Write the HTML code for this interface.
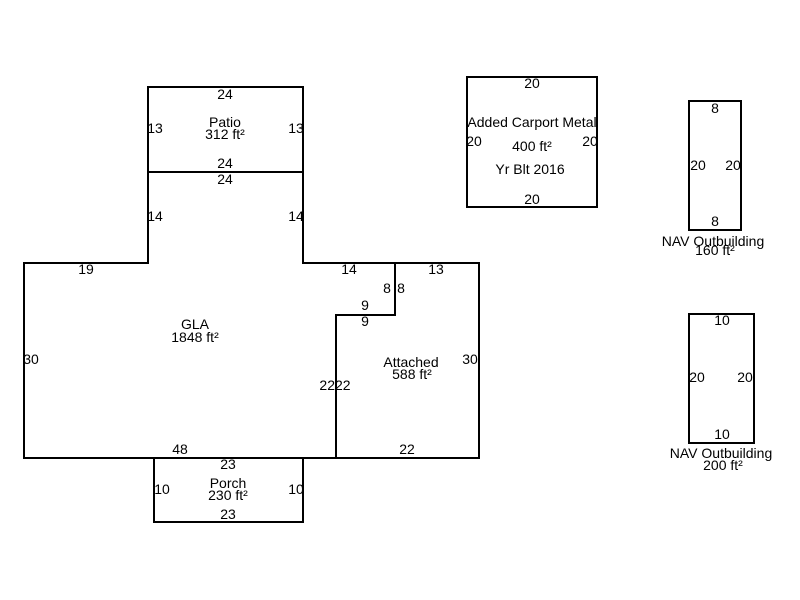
<!DOCTYPE html>
<html><head><meta charset="utf-8"><style>
html,body{margin:0;padding:0;background:#fff;}
svg{display:block;}
text{font-family:"Liberation Sans",Arial,sans-serif;font-size:14px;fill:#000;text-anchor:middle;}
</style></head><body>
<svg width="800" height="600" viewBox="0 0 800 600" xmlns="http://www.w3.org/2000/svg">
<g fill="none" stroke="#000" stroke-width="2">
<rect x="148" y="87" width="155" height="85"/>
<polygon points="148,172 303,172 303,263 395,263 395,315 336,315 336,458 24,458 24,263 148,263"/>
<polygon points="395,263 479,263 479,458 336,458 336,315 395,315"/>
<rect x="154" y="458" width="149" height="64"/>
<rect x="467" y="77" width="130" height="130"/>
<rect x="689" y="101" width="52" height="129"/>
<rect x="689" y="314" width="65" height="129"/>
</g>
<text x="225" y="99">24</text>
<text x="225" y="127">Patio</text>
<text x="225" y="139">312 ft²</text>
<text x="155" y="133">13</text>
<text x="296" y="133">13</text>
<text x="225" y="168">24</text>
<text x="225" y="184">24</text>
<text x="155" y="221">14</text>
<text x="296" y="221">14</text>
<text x="86" y="274">19</text>
<text x="349" y="274">14</text>
<text x="436" y="274">13</text>
<text x="387" y="293">8</text>
<text x="401" y="293">8</text>
<text x="365" y="310">9</text>
<text x="365" y="326">9</text>
<text x="195" y="329">GLA</text>
<text x="195" y="342">1848 ft²</text>
<text x="31" y="364">30</text>
<text x="335" y="390">2222</text>
<text x="180" y="454">48</text>
<text x="411" y="367">Attached</text>
<text x="412" y="379">588 ft²</text>
<text x="470" y="364">30</text>
<text x="407" y="454">22</text>
<text x="228" y="469">23</text>
<text x="228" y="488">Porch</text>
<text x="228" y="500">230 ft²</text>
<text x="162" y="494">10</text>
<text x="296" y="494">10</text>
<text x="228" y="519">23</text>
<text x="532" y="88">20</text>
<text x="532" y="127">Added Carport Metal</text>
<text x="532" y="151">400 ft²</text>
<text x="474" y="146">20</text>
<text x="590" y="146">20</text>
<text x="530" y="174">Yr Blt 2016</text>
<text x="532" y="204">20</text>
<text x="715" y="113">8</text>
<text x="698" y="170">20</text>
<text x="733" y="170">20</text>
<text x="715" y="226">8</text>
<text x="713" y="246">NAV Outbuilding</text>
<text x="715" y="255">160 ft²</text>
<text x="722" y="325">10</text>
<text x="697" y="382">20</text>
<text x="745" y="382">20</text>
<text x="722" y="439">10</text>
<text x="721" y="458">NAV Outbuilding</text>
<text x="723" y="470">200 ft²</text>
</svg>
</body></html>
